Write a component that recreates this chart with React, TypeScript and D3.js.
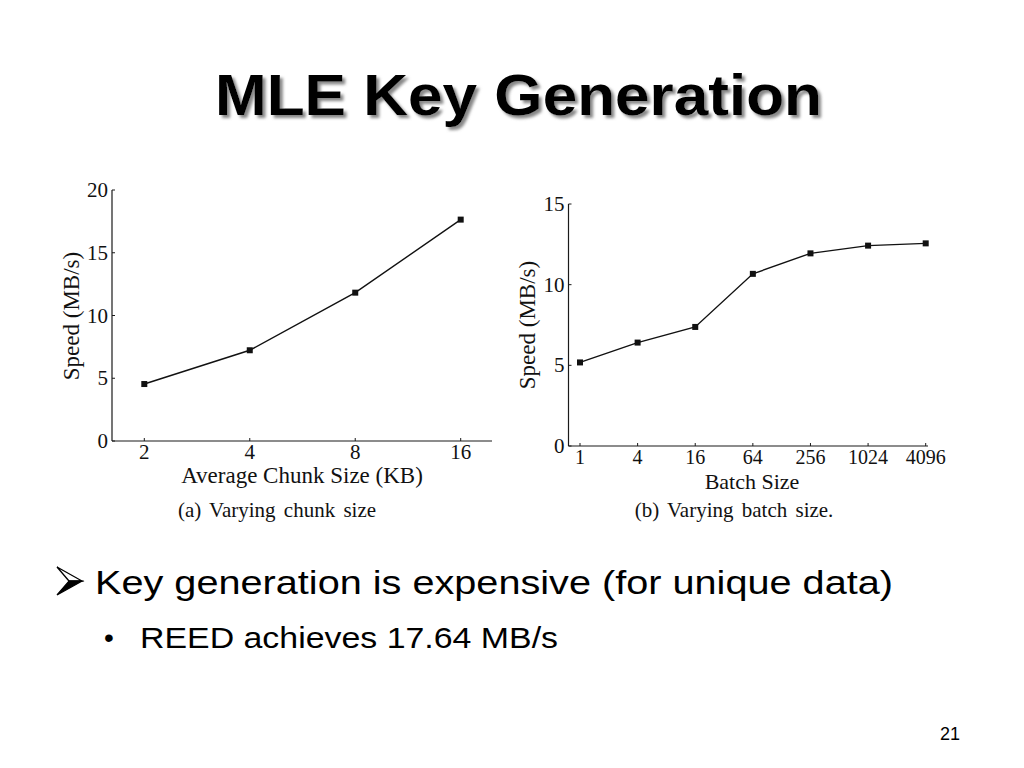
import React from "react";
import * as d3 from "d3";

const chunkSizes = [2, 4, 8, 16];
const chunkSpeed = [4.54, 7.23, 11.82, 17.64];
const chunkYTicks = [0, 5, 10, 15, 20];

const batchSizes = [1, 4, 16, 64, 256, 1024, 4096];
const batchSpeed = [5.18, 6.41, 7.38, 10.67, 11.94, 12.42, 12.56];
const batchYTicks = [0, 5, 10, 15];

const titleText = "MLE Key Generation";
const bullet1 = "Key generation is expensive (for unique data)";
const bullet2 = "REED achieves 17.64 MB/s";
const pageNum = "21";

const serif = "'Liberation Serif', 'Times New Roman', serif";
const sans = "'Liberation Sans', Arial, sans-serif";

type PanelProps = {
  xs: number[];
  ys: number[];
  yTicks: number[];
  xDomain: [number, number];
  xRange: [number, number];
  yDomain: [number, number];
  yRange: [number, number];
  axisLeft: number;
  axisRight: number;
  xTitle: string;
  xTitleX: number;
  xTitleY: number;
  xTitleSize: number;
  caption: string;
  captionX: number;
  captionY: number;
  yTitleX: number;
  yTitleY: number;
  tickLabelDy: number;
  xTickSize: number;
};

function Panel(p: PanelProps) {
  const x = d3.scaleLog().base(2).domain(p.xDomain).range(p.xRange);
  const y = d3.scaleLinear().domain(p.yDomain).range(p.yRange);
  const y0 = y(p.yDomain[0]);
  const yTop = y(p.yDomain[1]);
  const pts = p.xs.map((v, i) => [x(v), y(p.ys[i])] as [number, number]);
  const line = d3.line()(pts) || "";
  const stroke = "#1a1a1a";
  return (
    <g>
      <line x1={p.axisLeft} x2={p.axisLeft} y1={yTop} y2={y0} stroke={stroke} strokeWidth={1.2} />
      <line x1={p.axisLeft} x2={p.axisRight} y1={y0} y2={y0} stroke={stroke} strokeWidth={1.2} />
      {p.yTicks.map((t) => (
        <g key={"y" + t}>
          <line x1={p.axisLeft} x2={p.axisLeft + 3} y1={y(t)} y2={y(t)} stroke={stroke} strokeWidth={1} />
          <text x={p.axisLeft - 4} y={y(t) + 7} textAnchor="end" fontFamily={serif} fontSize={21} fill="#111">
            {t}
          </text>
        </g>
      ))}
      {p.xs.map((t) => (
        <g key={"x" + t}>
          <line x1={x(t)} x2={x(t)} y1={y0} y2={y0 - 3} stroke={stroke} strokeWidth={1} />
          <text x={x(t)} y={y0 + p.tickLabelDy} textAnchor="middle" fontFamily={serif} fontSize={p.xTickSize} fill="#111">
            {t}
          </text>
        </g>
      ))}
      <path d={line} fill="none" stroke="#111" strokeWidth={1.4} />
      {pts.map(([px, py], i) => (
        <rect key={"m" + i} x={px - 3} y={py - 3} width={6} height={6} fill="#111" />
      ))}
      <text x={p.xTitleX} y={p.xTitleY} textAnchor="middle" fontFamily={serif} fontSize={p.xTitleSize} fill="#111">
        {p.xTitle}
      </text>
      <text
        transform={`translate(${p.yTitleX},${p.yTitleY}) rotate(-90)`}
        textAnchor="middle"
        fontFamily={serif}
        fontSize={23}
        fill="#111"
      >
        Speed (MB/s)
      </text>
      <text x={p.captionX} y={p.captionY} textAnchor="middle" fontFamily={serif} fontSize={21} fill="#111" wordSpacing={3}>
        {p.caption}
      </text>
    </g>
  );
}

export default function App() {
  return (
    <svg
      width={1024}
      height={768}
      viewBox="0 0 1024 768"
      style={{ position: "absolute", left: 0, top: 0, background: "#fff" }}
    >
      <defs>
        <filter id="titleShadow" x="-5%" y="-20%" width="110%" height="150%">
          <feDropShadow dx="3" dy="3" stdDeviation="1.5" floodColor="#7a7a7a" floodOpacity="0.9" />
        </filter>
      </defs>
      <rect x={0} y={0} width={1024} height={768} fill="#fff" />

      {/* Title with drop shadow */}
      <text
        x={215}
        y={115}
        fontFamily={sans}
        fontWeight="bold"
        fontSize={58}
        textLength={607}
        lengthAdjust="spacingAndGlyphs"
        fill="#000"
        filter="url(#titleShadow)"
      >
        {titleText}
      </text>

      <Panel
        xs={chunkSizes}
        ys={chunkSpeed}
        yTicks={chunkYTicks}
        xDomain={[2, 16]}
        xRange={[144.3, 460.7]}
        yDomain={[0, 20]}
        yRange={[441, 190]}
        axisLeft={112}
        axisRight={492}
        xTitle="Average Chunk Size (KB)"
        xTitleX={302}
        xTitleY={483}
        xTitleSize={23}
        caption="(a) Varying chunk size"
        captionX={277}
        captionY={517}
        yTitleX={79}
        yTitleY={316}
        tickLabelDy={17.5}
        xTickSize={21}
      />
      <Panel
        xs={batchSizes}
        ys={batchSpeed}
        yTicks={batchYTicks}
        xDomain={[1, 4096]}
        xRange={[580, 925.7]}
        yDomain={[0, 15]}
        yRange={[446, 204]}
        axisLeft={568.5}
        axisRight={928}
        xTitle="Batch Size"
        xTitleX={752}
        xTitleY={488.5}
        xTitleSize={22}
        caption="(b) Varying batch size."
        captionX={734}
        captionY={517}
        yTitleX={535}
        yTitleY={325}
        tickLabelDy={17.8}
        xTickSize={20}
      />

      {/* Bullet arrow */}
      <path d="M57,567 L82,581 L69,581 Z" fill="#fff" stroke="#000" strokeWidth={1.3} strokeLinejoin="miter" />
      <path d="M69,581 L82,581 L57,595 Z" fill="#000" stroke="#000" strokeWidth={1.2} />
      <text
        x={95}
        y={594}
        fontFamily={sans}
        fontSize={34}
        textLength={798}
        lengthAdjust="spacingAndGlyphs"
        fill="#000"
      >
        {bullet1}
      </text>

      <text x={104} y={647} fontFamily={sans} fontSize={28} fill="#000">
        •
      </text>
      <text
        x={140}
        y={648}
        fontFamily={sans}
        fontSize={30}
        textLength={418}
        lengthAdjust="spacingAndGlyphs"
        fill="#000"
      >
        {bullet2}
      </text>

      <text x={950} y={740} textAnchor="middle" fontFamily={sans} fontSize={18} fill="#000">
        {pageNum}
      </text>
    </svg>
  );
}
